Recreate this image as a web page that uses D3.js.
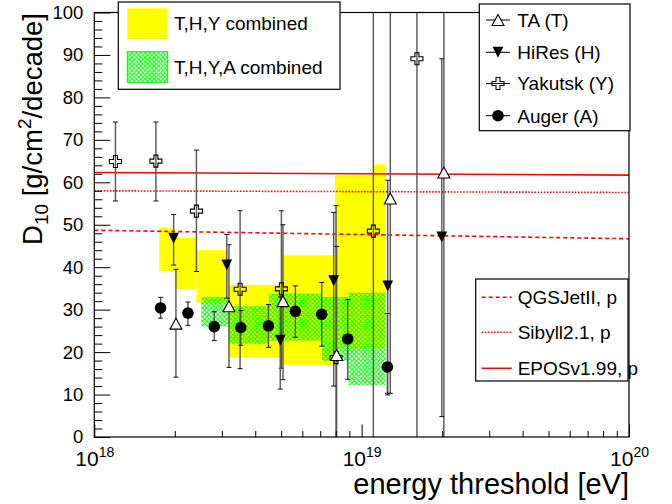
<!DOCTYPE html>
<html>
<head>
<meta charset="utf-8">
<script src="https://cdn.jsdelivr.net/npm/d3@7"></script>
<style>
  body { margin: 0; background: #fff; }
  svg { display: block; font-family: "Liberation Sans", Arial, Helvetica, sans-serif; }
</style>
</head>
<body>
<svg id="chart" width="672" height="504"></svg>
<script>
// ---- measurements: D10 elongation rate vs. energy threshold ----
const taE      = [2.02e18, 3.19e18, 5.08e18, 8.06e18, 1.28e19, 2.03e19];
const taD      = [26.7, 30.8, 32.0, 19.3, 56.2, 62.3];
const taLo     = [14.1, 16.4, 13.5, 0, 10.3, 0];
const taHi     = [39.5, 45.3, 50.0, 44.9, 120, 120];

const hiresE   = [1.98e18, 3.13e18, 4.96e18, 7.86e18, 1.252e19, 1.994e19];
const hiresD   = [46.8, 40.5, 22.8, 36.8, 35.6, 47.1];
const hiresLo  = [40.5, 32.7, 11.3, 12.0, 9.9, 4.8];
const hiresHi  = [52.4, 47.7, 33.0, 52.9, 60.5, 89.1];

const yakutskE  = [1.20e18, 1.70e18, 2.41e18, 3.51e18, 5.01e18, 8.02e18, 1.106e19, 1.61e19];
const yakutskD  = [64.9, 65.0, 53.2, 34.8, 34.9, 18.7, 48.5, 89.1];
const yakutskLo = [55.6, 55.6, 39.0, 16.1, 16.2, 0, 0, 0];
const yakutskHi = [74.2, 74.2, 67.6, 53.3, 53.3, 54.5, 120, 120];

const augerE   = [1.77e18, 2.24e18, 2.81e18, 3.53e18, 4.48e18, 5.65e18, 7.09e18, 8.87e18, 1.248e19];
const augerD   = [30.4, 29.2, 26.0, 25.8, 26.2, 29.6, 28.9, 23.1, 16.5];
const augerLo  = [28.0, 26.3, 22.7, 21.6, 21.1, 23.5, 21.4, 13.6, 10.3];
const augerHi  = [32.9, 31.8, 29.5, 29.8, 31.2, 35.6, 36.4, 32.4, 29.1];

// combined bands (bin edges in eV, band low/high per bin)
const thyEdges = [1.75e18, 2.0e18, 2.41e18, 3.18e18, 5.04e18, 7.95e18, 1.108e19, 1.23e19];
const thyLo    = [39.1, 34.8, 31.6, 18.7, 17.0, 20.9, 20.9];
const thyHi    = [49.2, 46.9, 44.0, 35.8, 42.8, 61.6, 64.2];

const thyaEdges = [2.51e18, 3.18e18, 4.49e18, 7.11e18, 8.92e18, 1.23e19];
const thyaLo    = [26.0, 22.0, 22.7, 17.9, 12.2];
const thyaHi    = [33.0, 30.8, 33.8, 33.0, 34.0];

// proton predictions of the hadronic models (value at 1e18 and 1e20 eV)
const modelE     = [1e18, 1e20];
const qgsjetP    = [48.7, 46.7];
const sibyllP    = [58.0, 57.6];
const eposP      = [62.3, 61.7];

// axis ticks
const yMajor = d3.range(0, 101, 10);
const yMinor = d3.range(0, 101, 2).filter(v => v % 10 !== 0);
const xMajor = [1e18, 1e19, 1e20];
const xMinor = [2,3,4,5,6,7,8,9].flatMap(m => [m * 1e18, m * 1e19]);

// ---- layout ----
const svg = d3.select("#chart");
const pLeft = 94.3, pRight = 629, pTop = 12.5, pBottom = 437;
const x = d3.scaleLog().domain([1e18, 1e20]).range([pLeft, pRight]);
const y = d3.scaleLinear().domain([0, 100]).range([pBottom, pTop]);

const defs = svg.append("defs");
defs.append("clipPath").attr("id", "plotClip")
  .append("rect").attr("x", pLeft).attr("y", pTop)
  .attr("width", pRight - pLeft).attr("height", pBottom - pTop);

const hatch = defs.append("pattern").attr("id", "greenHatch")
  .attr("patternUnits", "userSpaceOnUse").attr("width", 4.4).attr("height", 4.4);
hatch.append("path").attr("d", "M-1.1,-1.1 L5.5,5.5 M-1.1,5.5 L5.5,-1.1")
  .attr("stroke", "#00ff00").attr("stroke-width", 1.0);

const plot = svg.append("g").attr("clip-path", "url(#plotClip)");

// T,H,Y combined band
plot.append("g").selectAll("rect").data(thyLo).join("rect")
  .attr("x", (d, i) => x(thyEdges[i]))
  .attr("width", (d, i) => x(thyEdges[i + 1]) - x(thyEdges[i]))
  .attr("y", (d, i) => y(thyHi[i]))
  .attr("height", (d, i) => y(thyLo[i]) - y(thyHi[i]))
  .attr("fill", "#ffff00");

// T,H,Y,A combined band
plot.append("g").selectAll("rect").data(thyaLo).join("rect")
  .attr("x", (d, i) => x(thyaEdges[i]))
  .attr("width", (d, i) => x(thyaEdges[i + 1]) - x(thyaEdges[i]))
  .attr("y", (d, i) => y(thyaHi[i]))
  .attr("height", (d, i) => y(thyaLo[i]) - y(thyaHi[i]))
  .attr("fill", "url(#greenHatch)");

// model lines
const line = d3.line().x(d => x(d[0])).y(d => y(d[1]));
const models = [
  { v: qgsjetP, dash: "4,3" },
  { v: sibyllP, dash: "1.5,1.6" },
  { v: eposP,   dash: null }
];
models.forEach(m => {
  plot.append("path").datum(modelE.map((e, i) => [e, m.v[i]]))
    .attr("d", line).attr("fill", "none")
    .attr("stroke", "#ff0000").attr("stroke-width", 1.6)
    .attr("stroke-dasharray", m.dash);
});

// error bars
function errorBars(E, lo, hi) {
  const g = plot.append("g");
  E.forEach((e, i) => {
    const cx = x(e);
    g.append("line").attr("x1", cx).attr("x2", cx)
      .attr("y1", y(lo[i])).attr("y2", y(hi[i]))
      .attr("stroke", "#555").attr("stroke-width", 1.4);
    [lo[i], hi[i]].forEach(v => {
      if (v > 0 && v < 100) {
        g.append("line").attr("x1", cx - 2.5).attr("x2", cx + 2.5)
          .attr("y1", y(v)).attr("y2", y(v))
          .attr("stroke", "#111").attr("stroke-width", 1);
      }
    });
  });
}
errorBars(yakutskE, yakutskLo, yakutskHi);
errorBars(taE, taLo, taHi);
errorBars(hiresE, hiresLo, hiresHi);
errorBars(augerE, augerLo, augerHi);

// marker shapes
const triUp   = "M0,-5.5 L6,5.5 L-6,5.5 Z";
const triDown = "M0,5.5 L5.4,-5.5 L-5.4,-5.5 Z";
const crossPath = "M-2,-6 L2,-6 L2,-2 L6,-2 L6,2 L2,2 L2,6 L-2,6 L-2,2 L-6,2 L-6,-2 L-2,-2 Z";

function drawMarker(g, kind, cx, cy) {
  if (kind === "ta") {
    g.append("path").attr("d", triUp).attr("transform", `translate(${cx},${cy})`)
      .attr("fill", "#fff").attr("stroke", "#000").attr("stroke-width", 1.1);
  } else if (kind === "hires") {
    g.append("path").attr("d", triDown).attr("transform", `translate(${cx},${cy})`)
      .attr("fill", "#000");
  } else if (kind === "yakutsk") {
    g.append("path").attr("d", crossPath).attr("transform", `translate(${cx},${cy})`)
      .attr("fill", "none").attr("stroke", "#000").attr("stroke-width", 1.1);
  } else {
    g.append("circle").attr("cx", cx).attr("cy", cy).attr("r", 5.8).attr("fill", "#000");
  }
}

const marks = plot.append("g");
yakutskE.forEach((e, i) => drawMarker(marks, "yakutsk", x(e), y(yakutskD[i])));
taE.forEach((e, i) => drawMarker(marks, "ta", x(e), y(taD[i])));
hiresE.forEach((e, i) => drawMarker(marks, "hires", x(e), y(hiresD[i])));
augerE.forEach((e, i) => drawMarker(marks, "auger", x(e), y(augerD[i])));

// ---- axes ----
const yAxis = svg.append("g").attr("transform", `translate(${pLeft},0)`)
  .call(d3.axisLeft(y).tickValues(yMajor).tickSize(-16).tickPadding(11).tickFormat(d3.format("d")));
svg.append("g").attr("transform", `translate(${pLeft},0)`)
  .call(d3.axisLeft(y).tickValues(yMinor).tickSize(-8).tickFormat(""));

const xAxis = svg.append("g").attr("transform", `translate(0,${pBottom})`)
  .call(d3.axisBottom(x).tickValues(xMajor).tickSize(-12.5).tickPadding(0).tickFormat(""));
svg.append("g").attr("transform", `translate(0,${pBottom})`)
  .call(d3.axisBottom(x).tickValues(xMinor).tickSize(-6).tickFormat(""));

svg.selectAll(".domain").remove();
svg.selectAll(".tick line").attr("stroke", "#000").attr("stroke-width", 1);
yAxis.selectAll(".tick text").attr("font-size", 18.5).attr("fill", "#000")
  .attr("font-family", "Liberation Sans, Arial, sans-serif");

xAxis.selectAll(".tick").each(function (d) {
  const t = d3.select(this).append("text")
    .attr("y", 29).attr("text-anchor", "middle").attr("fill", "#000")
    .attr("font-family", "Liberation Sans, Arial, sans-serif").attr("font-size", 21);
  t.append("tspan").text("10");
  t.append("tspan").attr("font-size", 14).attr("dy", -9).text(Math.round(Math.log10(d)));
});

// frame
svg.append("rect").attr("x", pLeft).attr("y", pTop)
  .attr("width", pRight - pLeft).attr("height", pBottom - pTop)
  .attr("fill", "none").attr("stroke", "#000").attr("stroke-width", 1.2);

// axis titles
svg.append("text").attr("x", pRight).attr("y", 494).attr("text-anchor", "end")
  .attr("font-size", 29).attr("fill", "#000").text("energy threshold [eV]");

const yt = svg.append("text").attr("transform", "translate(42,13) rotate(-90)")
  .attr("text-anchor", "end").attr("font-size", 27.5).attr("fill", "#000");
yt.append("tspan").text("D");
yt.append("tspan").attr("font-size", 19).attr("dy", 6).text("10");
yt.append("tspan").attr("dy", -6).text(" [g/cm");
yt.append("tspan").attr("font-size", 19).attr("dy", -11).text("2");
yt.append("tspan").attr("dy", 11).text("/decade]");

// ---- legends ----
function box(x0, y0, x1, y1) {
  svg.append("rect").attr("x", x0).attr("y", y0).attr("width", x1 - x0).attr("height", y1 - y0)
    .attr("fill", "#fff").attr("stroke", "#000").attr("stroke-width", 1.2);
}

// band legend
box(118.3, 2, 340, 89.3);
svg.append("rect").attr("x", 127.3).attr("y", 8.3).attr("width", 40.4).attr("height", 30.7).attr("fill", "#ffff00");
svg.append("rect").attr("x", 127.3).attr("y", 51.7).attr("width", 40.4).attr("height", 30.6)
  .attr("fill", "url(#greenHatch)").attr("stroke", "#00ee00").attr("stroke-width", 1);
svg.append("text").attr("x", 174).attr("y", 30.3).attr("font-size", 19).text("T,H,Y combined");
svg.append("text").attr("x", 174).attr("y", 73.5).attr("font-size", 19).text("T,H,Y,A combined");

// experiment legend
box(479.3, 4, 630, 130.7);
const expLegend = [
  { kind: "ta", label: "TA (T)", cy: 20 },
  { kind: "hires", label: "HiRes (H)", cy: 52.3 },
  { kind: "yakutsk", label: "Yakutsk (Y)", cy: 83.5 },
  { kind: "auger", label: "Auger (A)", cy: 115.7 }
];
expLegend.forEach(r => {
  svg.append("line").attr("x1", 486).attr("x2", 510).attr("y1", r.cy).attr("y2", r.cy)
    .attr("stroke", "#000").attr("stroke-width", 1);
  drawMarker(svg, r.kind, 498, r.cy);
  svg.append("text").attr("x", 517.3).attr("y", r.cy + 6.8).attr("font-size", 19).text(r.label);
});

// model legend
box(475.7, 279, 628, 381);
const modelLegend = [
  { label: "QGSJetII, p", dash: "4,3", cy: 297.3 },
  { label: "Sibyll2.1, p", dash: "1.5,1.6", cy: 332.3 },
  { label: "EPOSv1.99, p", dash: null, cy: 368.3 }
];
modelLegend.forEach(r => {
  svg.append("line").attr("x1", 481.7).attr("x2", 511.7).attr("y1", r.cy).attr("y2", r.cy)
    .attr("stroke", "#ff0000").attr("stroke-width", 1.6).attr("stroke-dasharray", r.dash);
  svg.append("text").attr("x", 517.7).attr("y", r.cy + 6.8).attr("font-size", 19).text(r.label);
});
</script>
</body>
</html>
